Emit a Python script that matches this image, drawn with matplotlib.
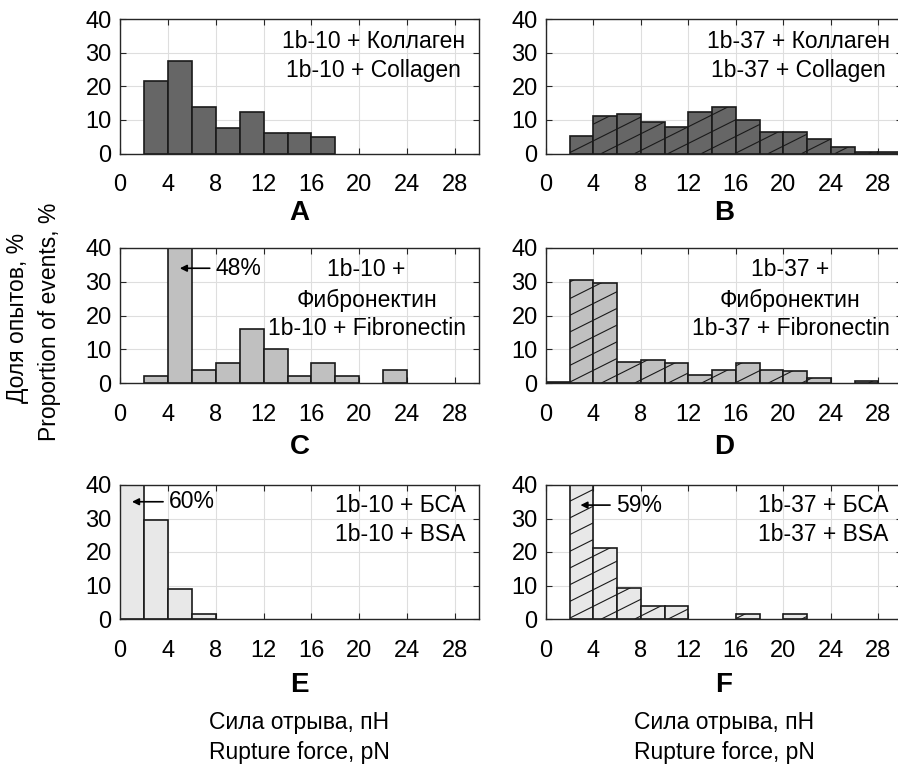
import numpy as np
import matplotlib
matplotlib.use("Agg")
import matplotlib.pyplot as plt
from matplotlib.collections import LineCollection

plt.rcParams['font.family'] = ['Liberation Sans', 'DejaVu Sans']

# ---------------- data ----------------
bin_edges = list(range(0, 32, 2))          # 0..30, width 2
xticks = [0, 4, 8, 12, 16, 20, 24, 28]
yticks = [0, 10, 20, 30, 40]

A_vals = [0, 21.5, 27.5, 13.9, 7.7, 12.3, 6.2, 6.2, 4.8, 0, 0, 0, 0, 0, 0]
B_vals = [0, 5.1, 11.2, 11.6, 9.4, 8.0, 12.2, 13.7, 9.9, 6.5, 6.5, 4.3, 2.0, 0.3, 0.3]
C_vals = [0, 2, 48, 4, 6, 16, 10, 2, 6, 2, 0, 4, 0, 0, 0]
D_vals = [0.4, 30.6, 29.6, 6.2, 6.8, 5.8, 2.5, 3.9, 5.8, 3.9, 3.5, 1.6, 0, 0.6, 0]
E_vals = [60, 29.5, 8.9, 1.5, 0, 0, 0, 0, 0, 0, 0, 0, 0, 0, 0]
F_vals = [0, 59, 21.2, 9.4, 4.0, 4.0, 0, 0, 1.4, 0, 1.4, 0, 0, 0, 0]

panel_letters = ['A', 'B', 'C', 'D', 'E', 'F']
panel_texts = [
    ['1b-10 + Коллаген', '1b-10 + Collagen'],
    ['1b-37 + Коллаген', '1b-37 + Collagen'],
    ['1b-10 +', 'Фибронектин', '1b-10 + Fibronectin'],
    ['1b-37 +', 'Фибронектин', '1b-37 + Fibronectin'],
    ['1b-10 + БСА', '1b-10 + BSA'],
    ['1b-37 + БСА', '1b-37 + BSA'],
]
pct_labels = {2: '48%', 4: '60%', 5: '59%'}
xlabel_ru = 'Сила отрыва, пН'
xlabel_en = 'Rupture force, pN'
ylabel_ru = 'Доля опытов, %'
ylabel_en = 'Proportion of events, %'

values = [A_vals, B_vals, C_vals, D_vals, E_vals, F_vals]
colors = ['#666666', '#666666', '#c0c0c0', '#c0c0c0', '#e8e8e8', '#e8e8e8']

# ---------------- layout ----------------
W, H = 898, 769
fig = plt.figure(figsize=(W / 100, H / 100), dpi=100)

def pos(x0, x1, ytop, ybot):
    return [x0 / W, 1 - ybot / H, (x1 - x0) / W, (ybot - ytop) / H]

cols = [(120, 479), (546, 902)]
rows = [(19, 153.5), (248, 383), (485, 619)]
letter_y = [213, 447, 685]

FS = 16.5
TFS = 17
text_pos = {0: (21.2, [33.2, 24.8]), 1: (21.3, [33.2, 24.8]),
            2: (20.6, [33.5, 24.6, 16.2]), 3: (20.6, [33.5, 24.6, 16.2]),
            4: (23.4, [34.0, 25.1]), 5: (23.4, [34.0, 25.1])}
arrow_pos = {2: (5.0, 7.5, 34.0), 4: (1.0, 3.6, 35.0), 5: (2.9, 5.4, 34.0)}


def add_hatch(ax, bars, slope=0.5, spacing=16.7):
    bb = ax.get_window_extent()
    w, h = bb.width, bb.height
    k = slope * w  # rise in px over full axes width
    segs = []
    c = -k
    while c < h:
        x0 = max(0.0, -c / k)
        x1 = min(1.0, (h - c) / k)
        if x1 > x0:
            segs.append([(x0, (k * x0 + c) / h), (x1, (k * x1 + c) / h)])
        c += spacing
    for b in bars:
        if b.get_height() <= 0:
            continue
        lc = LineCollection(segs, colors='#1a1a1a', linewidths=0.8,
                            transform=ax.transAxes, zorder=b.get_zorder() + 0.1)
        ax.add_collection(lc, autolim=False)
        lc.set_clip_path(b)


for i in range(6):
    r, cidx = divmod(i, 2)
    ax = fig.add_axes(pos(cols[cidx][0], cols[cidx][1], rows[r][0], rows[r][1]))
    ax.set_xlim(0, 30)
    ax.set_ylim(0, 40)
    lefts = bin_edges[:-1]
    vals = values[i]
    xs = [l for l, v in zip(lefts, vals) if v > 0]
    hs = [v for v in vals if v > 0]
    bars = ax.bar(xs, hs, width=2, align='edge', color=colors[i],
                  edgecolor='#1a1a1a', linewidth=1.2, zorder=2)
    if cidx == 1:
        add_hatch(ax, bars)
    ax.set_xlim(0, 30)
    ax.set_ylim(0, 40)
    ax.set_xticks(xticks)
    ax.set_yticks(yticks)
    ax.grid(True, color='#dedede', linewidth=0.8, zorder=0)
    ax.set_axisbelow(True)
    ax.tick_params(direction='in', length=4, top=True, right=True,
                   labelsize=TFS, colors='#262626', labelcolor='black', width=0.8)
    ax.tick_params(axis='x', pad=15)
    ax.tick_params(axis='y', pad=6)
    for s in ax.spines.values():
        s.set_color('#262626')
        s.set_linewidth(1.0)

    tx, tys = text_pos[i]
    for line, ty in zip(panel_texts[i], tys):
        ax.text(tx, ty, line, ha='center', va='center', fontsize=FS, zorder=5)

    if i in arrow_pos:
        hx, tlx, ay = arrow_pos[i]
        ax.annotate('', xy=(hx, ay), xytext=(tlx, ay),
                    arrowprops=dict(arrowstyle='-|>', color='black', lw=1.2,
                                    mutation_scale=10, shrinkA=0, shrinkB=0),
                    zorder=6)
        ax.text(tlx + 0.5, ay, pct_labels[i], ha='left', va='center',
                fontsize=FS, zorder=6)

    xc = (cols[cidx][0] + cols[cidx][1]) / 2 / W
    fig.text(xc, 1 - letter_y[r] / H, panel_letters[i], ha='center',
             va='center', fontsize=20, fontweight='bold')

for cidx in range(2):
    xc = (cols[cidx][0] + cols[cidx][1]) / 2 / W
    fig.text(xc, 1 - 722 / H, xlabel_ru, ha='center', va='center', fontsize=FS)
    fig.text(xc, 1 - 752 / H, xlabel_en, ha='center', va='center', fontsize=FS)

fig.text(18 / W, 1 - 318 / H, ylabel_ru, rotation=90, ha='center', va='center', fontsize=FS)
fig.text(50 / W, 1 - 322 / H, ylabel_en, rotation=90, ha='center', va='center', fontsize=FS)

fig.savefig('out.png', dpi=100)
